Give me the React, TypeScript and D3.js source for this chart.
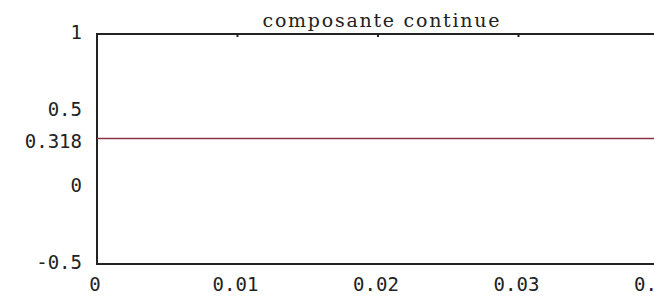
import React, { useRef, useEffect } from 'react';
import * as d3 from 'd3';

const title = 'composante continue';
const timeValues = [0, 0.04];
const signalValues = [0.318, 0.318];
const xTicks = [0, 0.01, 0.02, 0.03, 0.04];
const yTicks = [1, 0.5, 0.318, 0, -0.5];
const yTickLabels = ['1', '0.5', '0.318', '0', '-0.5'];

const App = () => {
  const svgRef = useRef<SVGSVGElement>(null);
  const width = 654;
  const height = 299;

  useEffect(() => {
    const svg = d3.select(svgRef.current);
    svg.selectAll('*').remove();

    const xScale = d3.scaleLinear().domain([0, 0.04]).range([97, 659]);
    const yScale = d3.scaleLinear().domain([-0.5, 1]).range([264, 34]);

    svg.append('rect').attr('width', width).attr('height', height).attr('fill', '#fff');

    // plot frame (right side runs past the window)
    svg
      .append('rect')
      .attr('x', xScale(0))
      .attr('y', yScale(1))
      .attr('width', 700)
      .attr('height', yScale(-0.5) - yScale(1))
      .attr('fill', 'none')
      .attr('stroke', '#222')
      .attr('stroke-width', 2);

    // small ticks under the top border
    svg
      .selectAll('.ttick')
      .data(xTicks.slice(1))
      .enter()
      .append('line')
      .attr('x1', d => xScale(d))
      .attr('x2', d => xScale(d))
      .attr('y1', yScale(1))
      .attr('y2', yScale(1) + 3)
      .attr('stroke', '#222')
      .attr('stroke-width', 2);

    const line = d3
      .line<number>()
      .x((d, i) => xScale(timeValues[i]))
      .y(d => yScale(d));

    svg
      .append('path')
      .datum(signalValues)
      .attr('fill', 'none')
      .attr('stroke', '#8a3448')
      .attr('stroke-width', 1.5)
      .attr('d', line);

    svg
      .selectAll('.xlab')
      .data(xTicks)
      .enter()
      .append('text')
      .attr('x', d => xScale(d) - 2)
      .attr('y', yScale(-0.5) + 27)
      .attr('text-anchor', 'middle')
      .attr('font-family', 'DejaVu Sans Mono, monospace')
      .attr('font-size', 19)
      .attr('fill', '#222')
      .text(d => String(d));

    svg
      .selectAll('.ylab')
      .data(yTicks)
      .enter()
      .append('text')
      .attr('x', 82)
      .attr('y', d => yScale(d) + (d === 0.318 ? 9 : 5))
      .attr('text-anchor', 'end')
      .attr('font-family', 'DejaVu Sans Mono, monospace')
      .attr('font-size', 19)
      .attr('fill', '#222')
      .text((d, i) => yTickLabels[i]);

    svg
      .append('text')
      .attr('x', 381)
      .attr('y', 27)
      .attr('text-anchor', 'middle')
      .attr('font-family', 'DejaVu Serif, serif')
      .attr('font-size', 19)
      .attr('textLength', 237)
      .attr('lengthAdjust', 'spacing')
      .attr('fill', '#222')
      .text(title);
  }, []);

  return (
    <svg
      ref={svgRef}
      width={width}
      height={height}
      style={{ position: 'absolute', left: 0, top: 0 }}
    ></svg>
  );
};

export default App;
